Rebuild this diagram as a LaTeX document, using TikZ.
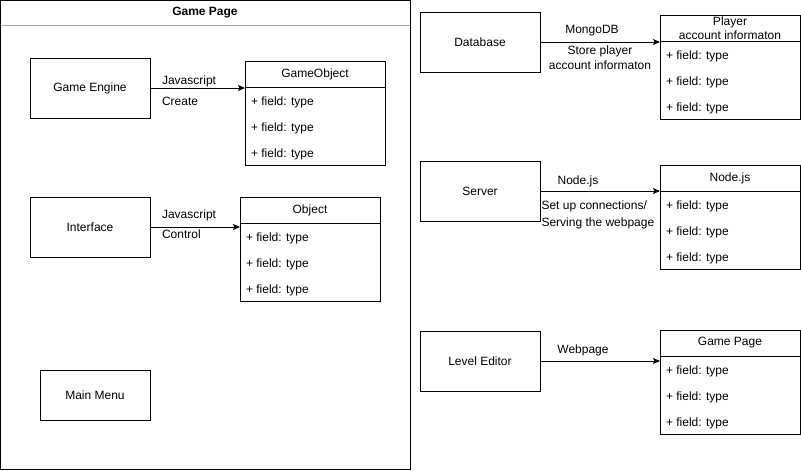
\documentclass[tikz,border=0pt]{standalone}
\usepackage{fontspec}
\setmainfont{Liberation Sans}
\usetikzlibrary{arrows.meta, positioning}

\begin{document}
\begin{tikzpicture}[
      x=1pt, y=-1pt,
      every node/.style={font=\fontsize{12}{13.5}\selectfont, outer sep=0pt},
      frame/.style={draw, line width=1pt, inner sep=0pt, anchor=north west},
      box/.style={draw, line width=1pt, minimum width=120pt, minimum height=60pt, inner sep=0pt},
      head/.style={draw, line width=1pt, minimum width=140pt, minimum height=26pt,
                   inner sep=0pt, align=center, anchor=north west},
      body/.style={draw, line width=1pt, minimum width=140pt, minimum height=78pt, inner sep=0pt},
      fld/.style={anchor=west, inner sep=0pt},
      arr/.style={-{Stealth[length=7pt, width=6pt, inset=1.5pt]}, line width=1pt},
      lbl/.style={inner sep=0pt, align=left}
  ]
    \useasboundingbox (0,0) rectangle (801,471);

    % left container
    \node[frame, minimum width=409.5pt, minimum height=468.5pt] (gamePage) at (0.5,0.5) {};
    \node[font=\fontsize{12}{13.5}\selectfont\bfseries, inner sep=0pt] (gamePageTitle) at (205,13) {Game Page};
    \draw[gray!70, line width=1pt] ([yshift=-25pt]gamePage.north west) -- ([yshift=-25pt]gamePage.north east);

    \node[box] (engine) at (90,88)  {Game Engine};
    \node[box] (iface)  at (90,227) {Interface};
    \node[box, minimum width=110pt, minimum height=50pt] (menu) at (95,395) {Main Menu};

    \node[head] (goHead) at (245,61) {GameObject};
    \node[body, below=0pt of goHead] (goBody) {};
    \node[fld] (goF1) at ([shift={(6,15)}]goBody.north west) {+ field: type};
    \node[fld] (goF2) at ([shift={(6,41)}]goBody.north west) {+ field: type};
    \node[fld] (goF3) at ([shift={(6,67)}]goBody.north west) {+ field: type};

    \node[head] (objHead) at (240,197) {Object};
    \node[body, below=0pt of objHead] (objBody) {};
    \node[fld] (objF1) at ([shift={(6,15)}]objBody.north west) {+ field: type};
    \node[fld] (objF2) at ([shift={(6,41)}]objBody.north west) {+ field: type};
    \node[fld] (objF3) at ([shift={(6,67)}]objBody.north west) {+ field: type};

    % right column
    \node[box] (db)     at (480,42)  {Database};
    \node[box] (server) at (480,191) {Server};
    \node[box] (editor) at (480,361) {Level Editor};

    \node[head] (playerHead) at (660,15) {Player\\account informaton};
    \node[body, below=0pt of playerHead] (playerBody) {};
    \node[fld] (playerF1) at ([shift={(6,15)}]playerBody.north west) {+ field: type};
    \node[fld] (playerF2) at ([shift={(6,41)}]playerBody.north west) {+ field: type};
    \node[fld] (playerF3) at ([shift={(6,67)}]playerBody.north west) {+ field: type};

    \node[head] (nodeHead) at (660,165) {Node.js};
    \node[body, below=0pt of nodeHead] (nodeBody) {};
    \node[fld] (nodeF1) at ([shift={(6,15)}]nodeBody.north west) {+ field: type};
    \node[fld] (nodeF2) at ([shift={(6,41)}]nodeBody.north west) {+ field: type};
    \node[fld] (nodeF3) at ([shift={(6,67)}]nodeBody.north west) {+ field: type};

    \node[head] (pageHead) at (660,330) {Game Page};
    \node[body, below=0pt of pageHead] (pageBody) {};
    \node[fld] (pageF1) at ([shift={(6,15)}]pageBody.north west) {+ field: type};
    \node[fld] (pageF2) at ([shift={(6,41)}]pageBody.north west) {+ field: type};
    \node[fld] (pageF3) at ([shift={(6,67)}]pageBody.north west) {+ field: type};

    % connectors
    \draw[arr] (engine.east) -- (engine.east -| goBody.west)
          node[lbl, pos=0, anchor=base west, xshift=12pt, yshift=3.5pt] {Javascript}
          node[lbl, pos=0, anchor=base west, xshift=12pt, yshift=-17pt] {Create};
    \draw[arr] (iface.east) -- (iface.east -| objBody.west)
          node[lbl, pos=0, anchor=base west, xshift=12pt, yshift=9pt] {Javascript}
          node[lbl, pos=0, anchor=base west, xshift=12pt, yshift=-11pt] {Control};
    \draw[arr] (db.east) -- (db.east -| playerBody.west)
          node[lbl, pos=0.5, anchor=base, xshift=-8pt, yshift=8pt] {MongoDB}
          node[lbl, pos=0.5, anchor=base, yshift=-27pt, align=center,
               font=\fontsize{12}{14.5}\selectfont] {Store player\\account informaton};
    \draw[arr] (server.east) -- (server.east -| nodeBody.west)
          node[lbl, pos=0.5, anchor=base, xshift=-22pt, yshift=7pt] {Node.js}
          node[lbl, pos=0, anchor=base west, xshift=1.5pt, yshift=-35pt,
               font=\fontsize{12}{17}\selectfont] {Set up connections/\\Serving the webpage};
    \draw[arr] (editor.east) -- (editor.east -| pageBody.west)
          node[lbl, pos=0.5, anchor=base, xshift=-17pt, yshift=8pt] {Webpage};
\end{tikzpicture}
\end{document}
